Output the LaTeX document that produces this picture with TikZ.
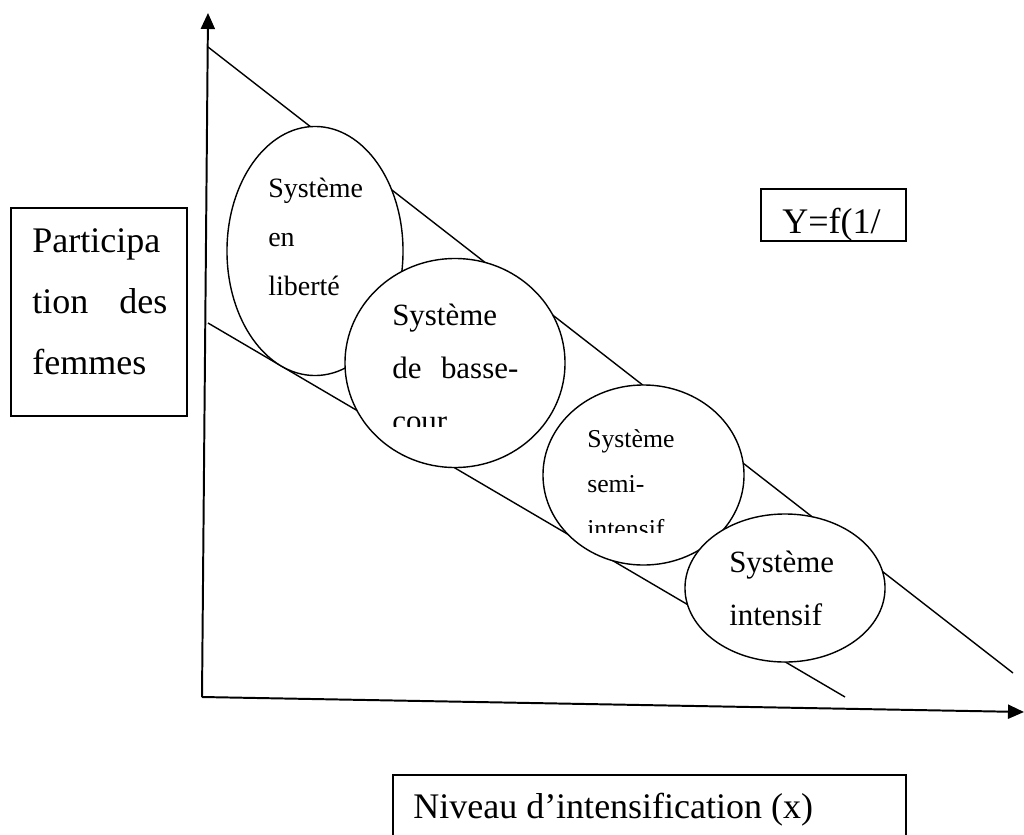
\documentclass[tikz,border=0pt]{standalone}
\usepackage{fontspec}
\setmainfont{Liberation Serif}
\usetikzlibrary{arrows.meta, positioning, shapes.geometric}

\begin{document}
\begin{tikzpicture}[
    x=0.025cm, y=-0.025cm, % coordinate in pixel
    % Stili per assi e rette
    axis/.style={line width=1.4pt, -{Triangle[length=0.4cm, width=0.35cm]}},
    bound/.style={line width=1pt},
    % Stili per i sistemi
    sistema/.style={ellipse, draw, line width=1pt, fill=white, inner sep=0pt},
    box/.style={rectangle, draw, line width=1pt, inner sep=0pt},
    % Stili per il testo
    txt/.style={anchor=base west, inner sep=0pt, align=left},
    bigtext/.style={txt, font=\fontsize{25.6pt}{43.4pt}\selectfont}
]
\clip (0,0) rectangle (1024,834);

% === ASSI ===
\coordinate (origine) at (202,697);
\coordinate (ytip) at (208,13);
\coordinate (xtip) at (1024,712);
\draw[axis] (origine) -- (ytip);
\draw[axis] (origine) -- (xtip);

% === RETTE ===
\coordinate (hautA) at (208,47);
\coordinate (hautB) at (1013,673);
\coordinate (basA) at (208,323);
\coordinate (basB) at (845,697);
\draw[bound] (hautA) -- (hautB);
\draw[bound] (basA) -- (basB);

% === SISTEMI ===
\node[sistema, minimum width=4.4cm, minimum height=6.225cm] (liberte) at (315,251) {};
\node[txt, text width=2.5cm, font=\fontsize{19.9pt}{34.9pt}\selectfont] (liberteT) at (268,197) {Système\\ en\\ liberté};

\node[sistema, minimum width=5.5cm, minimum height=5.225cm] (bassecour) at (455,363) {};
\begin{scope}
\clip (380,270) rectangle (540,426);
\node[txt, text width=3.15cm, font=\fontsize{22pt}{37.7pt}\selectfont] (bassecourT) at (392,325) {Système\\ \makebox[3.15cm]{de\hfill basse-}\\ cour};
\end{scope}

\node[sistema, minimum width=5.025cm, minimum height=4.5cm] (semi) at (643.5,475) {};
\begin{scope}
\clip (570,400) rectangle (720,532);
\node[txt, text width=2.5cm, font=\fontsize{18.3pt}{32pt}\selectfont] (semiT) at (587,447) {Système\\ semi-\\ intensif};
\end{scope}

\node[sistema, minimum width=5cm, minimum height=3.7cm] (intensif) at (785,588) {};
\node[txt, text width=2.5cm, font=\fontsize{22pt}{37.7pt}\selectfont] (intensifT) at (729,572) {Système\\ intensif};

% === RIQUADRI ===
\node[box, minimum width=4.4cm, minimum height=5.2cm] (partbox) at (99,312) {};
\node[bigtext, text width=3.375cm] (part) at (32,252) {Participa\\ \makebox[3.375cm]{tion\hfill des}\\ femmes};

\node[box, minimum width=3.625cm, minimum height=1.3cm] (ybox) at (833.5,215) {};
\node[bigtext] (yfun) at (782,233) {Y=f(1/};

\node[box, minimum width=12.825cm, minimum height=2.1cm] (xbox) at (649.5,817) {};
\node[bigtext] (xlab) at (413,818) {Niveau d’intensification (x)};

\end{tikzpicture}
\end{document}
